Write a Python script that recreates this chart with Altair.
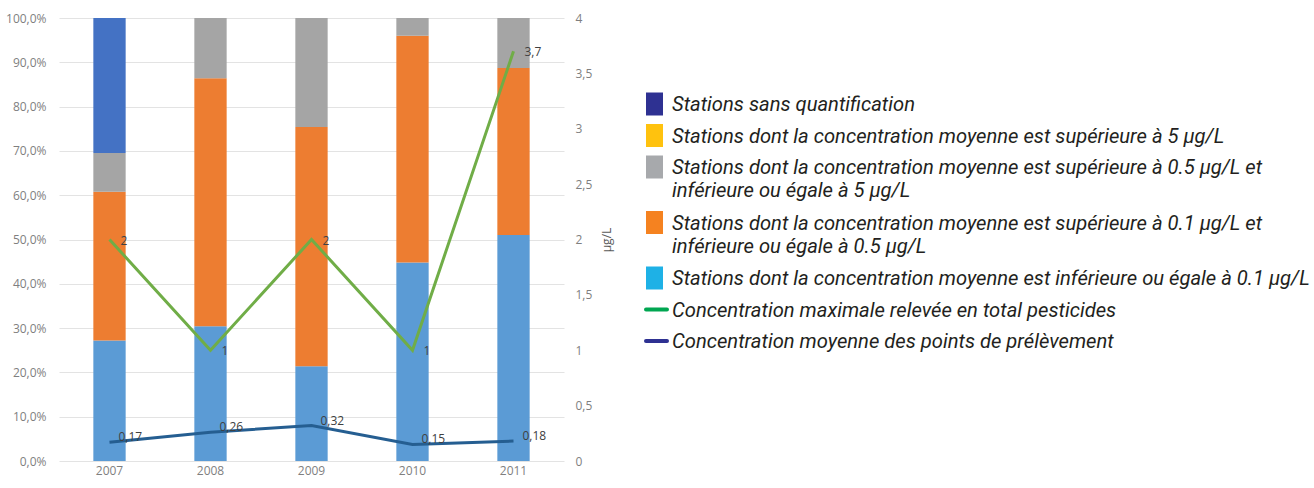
import altair as alt
import pandas as pd

# --- data ---------------------------------------------------------------
years = ["2007", "2008", "2009", "2010", "2011"]

# share of stations per class (%), stacked bottom to top
pct_le_01 = [27.2, 30.4, 21.4, 44.8, 51.0]
pct_01_05 = [33.6, 56.0, 54.0, 51.2, 37.7]
pct_05_5 = [8.7, 13.6, 24.6, 4.0, 11.3]
pct_gt_5 = [0.0, 0.0, 0.0, 0.0, 0.0]
pct_none = [30.5, 0.0, 0.0, 0.0, 0.0]

# concentrations (µg/L)
conc_max = [2, 1, 2, 1, 3.7]
conc_mean = [0.17, 0.26, 0.32, 0.15, 0.18]

class_names = [
    "≤ 0,1 µg/L",
    "0,1 – 0,5 µg/L",
    "0,5 – 5 µg/L",
    "> 5 µg/L",
    "sans quantification",
]
class_values = [pct_le_01, pct_01_05, pct_05_5, pct_gt_5, pct_none]
bar_colors = ["#5B9BD5", "#ED7D31", "#A5A5A5", "#FFC000", "#4472C4"]

legend_labels = [
    "Stations sans quantification",
    "Stations dont la concentration moyenne est supérieure à 5 µg/L",
    "Stations dont la concentration moyenne est supérieure à 0.5 µg/L et\ninférieure ou égale à 5 µg/L",
    "Stations dont la concentration moyenne est supérieure à 0.1 µg/L et\ninférieure ou égale à 0.5 µg/L",
    "Stations dont la concentration moyenne est inférieure ou égale à 0.1 µg/L",
    "Concentration maximale relevée en total pesticides",
    "Concentration moyenne des points de prélèvement",
]
legend_colors = ["#2E3192", "#FFC20E", "#A7A9AC", "#F58220", "#1EB1E6", "#00A651", "#2E3192"]
legend_kinds = ["box", "box", "box", "box", "box", "line", "line"]

# --- tables -------------------------------------------------------------
bars = pd.DataFrame(
    [
        {"year": y, "classe": name, "ordre": k, "pct": vals[i]}
        for k, (name, vals) in enumerate(zip(class_names, class_values))
        for i, y in enumerate(years)
    ]
)


def fr(v):
    return f"{v:g}".replace(".", ",")


lines = pd.DataFrame(
    {
        "year": years,
        "max": conc_max,
        "mean": conc_mean,
        "max_lbl": [fr(v) for v in conc_max],
        "mean_lbl": [fr(v) for v in conc_mean],
    }
)

W, H = 505, 443
AX_FONT = "Open Sans"
AX_COLOR = "#7F7F7F"
no_frame = alt.ViewBackground(stroke="transparent", strokeWidth=0)

x_enc = alt.X(
    "year:N",
    title=None,
    scale=alt.Scale(paddingInner=0.68, paddingOuter=0.34),
    axis=alt.Axis(labelAngle=0, domain=False, ticks=False, labelPadding=4),
)

bar_layer = (
    alt.Chart(bars)
    .mark_bar()
    .encode(
        x=x_enc,
        y=alt.Y(
            "pct:Q",
            stack="zero",
            title=None,
            scale=alt.Scale(domain=[0, 100], nice=False),
            axis=alt.Axis(
                values=list(range(0, 101, 10)),
                labelExpr="replace(format(datum.value, '.1f'), '.', ',') + '%'",
                domain=False,
                ticks=False,
                grid=True,
                labelPadding=13,
            ),
        ),
        color=alt.Color(
            "classe:N",
            scale=alt.Scale(domain=class_names, range=bar_colors),
            legend=None,
        ),
        order=alt.Order("ordre:Q", sort="ascending"),
    )
)

y_right_scale = alt.Scale(domain=[0, 4], nice=False)
y_right_axis = alt.Axis(
    orient="right",
    values=[0, 0.5, 1, 1.5, 2, 2.5, 3, 3.5, 4],
    labelExpr="replace(format(datum.value, '.1~f'), '.', ',')",
    domain=False,
    ticks=False,
    grid=False,
    labelPadding=11,
    titlePadding=22,
    titleAngle=270,
)


def y_right(field):
    return alt.Y(field, type="quantitative", scale=y_right_scale, title="µg/L", axis=y_right_axis)


max_line = (
    alt.Chart(lines)
    .mark_line(color="#70AD47", strokeWidth=3)
    .encode(x="year:N", y=y_right("max"))
)

mean_line = (
    alt.Chart(lines)
    .mark_line(color="#255E91", strokeWidth=3)
    .encode(x="year:N", y=y_right("mean"))
)

max_text = (
    alt.Chart(lines)
    .mark_text(align="left", baseline="middle", dx=11, dy=1, fontSize=12,
               font=AX_FONT, color="#404040")
    .encode(x="year:N", y=y_right("max"), text="max_lbl:N")
)

mean_text = (
    alt.Chart(lines)
    .mark_text(align="left", baseline="middle", dx=9, dy=-5, fontSize=12,
               font=AX_FONT, color="#404040")
    .encode(x="year:N", y=y_right("mean"), text="mean_lbl:N")
)

main = (
    alt.layer(bar_layer, alt.layer(max_line, mean_line, max_text, mean_text))
    .resolve_scale(y="independent")
    .properties(width=W, height=H, view=no_frame)
)

# --- hand-built legend --------------------------------------------------
LW = 664
rows = []
extra = 0
for i, (lab, col, kind) in enumerate(zip(legend_labels, legend_colors, legend_kinds)):
    centre = 86 + 31.5 * i + 24 * extra
    rows.append(
        {"label": lab, "colour": col, "kind": kind, "c": centre,
         "top": centre - 11.5, "bot": centre + 11.5, "base": centre + 7,
         "x0": 6, "x1": 23 if kind == "box" else 27, "tx": 32}
    )
    extra += lab.count("\n")
leg = pd.DataFrame(rows)

lx = alt.Scale(domain=[0, LW], nice=False)
ly = alt.Scale(domain=[0, H], nice=False, reverse=True)

leg_boxes = (
    alt.Chart(leg)
    .transform_filter(alt.datum.kind == "box")
    .mark_rect()
    .encode(
        x=alt.X("x0:Q", scale=lx, axis=None),
        x2="x1:Q",
        y=alt.Y("top:Q", scale=ly, axis=None),
        y2="bot:Q",
        color=alt.Color("colour:N", scale=None),
    )
)

leg_lines = (
    alt.Chart(leg)
    .transform_filter(alt.datum.kind == "line")
    .mark_rule(strokeWidth=4, strokeCap="round")
    .encode(
        x=alt.X("x0:Q", scale=lx, axis=None),
        x2="x1:Q",
        y=alt.Y("c:Q", scale=ly, axis=None),
        color=alt.Color("colour:N", scale=None),
    )
)

leg_text = (
    alt.Chart(leg)
    .mark_text(align="left", baseline="alphabetic", lineBreak="\n", lineHeight=23,
               fontSize=20.2, fontStyle="italic", font="Roboto",
               color="#231F20")
    .encode(
        x=alt.X("tx:Q", scale=lx, axis=None),
        y=alt.Y("base:Q", scale=ly, axis=None),
        text="label:N",
    )
)

legend_panel = (
    alt.layer(leg_boxes, leg_lines, leg_text)
    .properties(width=LW, height=H, view=no_frame)
)

chart = (
    alt.hconcat(main, legend_panel, spacing=27)
    .properties(
        padding={"left": 5, "top": 12, "right": 0, "bottom": 0},
        background="white",
    )
    .configure_view(stroke="transparent", strokeWidth=0)
    .configure_axis(
        labelFont=AX_FONT,
        labelFontSize=12,
        labelColor=AX_COLOR,
        titleFont=AX_FONT,
        titleFontSize=12,
        titleFontWeight="normal",
        titleColor="#595959",
        gridColor="#E3E3E3",
        gridWidth=1,
    )
)

chart.save("out.html", embed_options={"renderer": "svg", "actions": False})
